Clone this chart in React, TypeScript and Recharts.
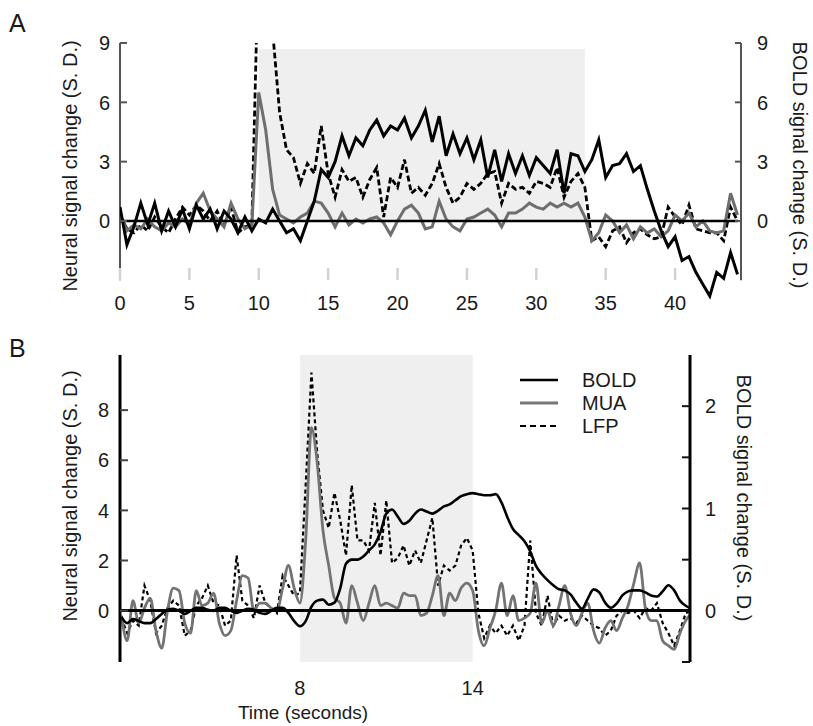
import React from 'react';
import { LineChart, Line, XAxis, YAxis, ReferenceLine, ReferenceArea, Legend } from 'recharts';

const FONT = '"Liberation Sans", Arial, Helvetica, sans-serif';

// ---------- Panel A (0.5 s steps) ----------
const timeA = [
  0, 0.5, 1, 1.5, 2, 2.5, 3, 3.5, 4, 4.5,
  5, 5.5, 6, 6.5, 7, 7.5, 8, 8.5, 9, 9.5,
  10, 10.5, 11, 11.5, 12, 12.5, 13, 13.5, 14, 14.5,
  15, 15.5, 16, 16.5, 17, 17.5, 18, 18.5, 19, 19.5,
  20, 20.5, 21, 21.5, 22, 22.5, 23, 23.5, 24, 24.5,
  25, 25.5, 26, 26.5, 27, 27.5, 28, 28.5, 29, 29.5,
  30, 30.5, 31, 31.5, 32, 32.5, 33, 33.5, 34, 34.5,
  35, 35.5, 36, 36.5, 37, 37.5, 38, 38.5, 39, 39.5,
  40, 40.5, 41, 41.5, 42, 42.5, 43, 43.5, 44, 44.5,
];
const boldA = [
  0.7, -1.2, -0.3, 0.9, -0.2, 0.9, -0.5, 0.5, -0.3, 0.6,
  -0.4, 0.8, 0.1, 0.6, -0.4, 0.5, 0.1, -0.6, 0.2, -0.5,
  0.1, -0.1, 0.6, 0.0, -0.6, -0.4, -1.0, 0.0, 1.0, 2.6,
  2.2, 3.0, 4.3, 3.3, 4.2, 3.8, 4.6, 5.1, 4.3, 4.8,
  4.6, 5.2, 4.2, 4.8, 5.6, 4.0, 5.3, 3.3, 4.4, 3.4,
  4.2, 3.1, 4.1, 2.2, 3.6, 2.0, 3.4, 2.4, 3.3, 2.3,
  3.2, 2.8, 2.4, 3.6, 1.4, 3.4, 3.3, 2.5, 3.1, 4.1,
  2.2, 2.8, 2.9, 3.4, 2.5, 2.8, 1.6, 0.5, -0.5, -1.3,
  -0.8, -2.0, -1.8, -2.6, -3.2, -3.8, -2.6, -2.9, -1.6, -2.7,
];
const muaA = [
  0.3, -0.5, -0.2, -0.4, 0.1, -0.3, -0.5, -0.1, -0.3, 0.1,
  -0.2, 0.9, 1.4, 0.5, 0.1, -0.3, 0.9, 0.1, -0.4, -0.2,
  6.5, 4.6, 1.6, 0.3, 0.1, -0.1, 0.2, 0.4, 1.0, 0.9,
  0.4, -0.3, 0.4, -0.2, 0.1, -0.1, 0.1, 0.2, -0.1, -0.7,
  0.0, 0.6, 0.8, 0.4, -0.4, -0.3, 1.0, 0.1, -0.3, -0.5,
  0.1, 0.2, 0.4, 0.6, 0.3, -0.3, 0.4, 0.4, 0.6, 0.9,
  0.7, 0.6, 0.9, 0.7, 0.9, 0.7, 0.9, 0.2, -1.0, -0.6,
  0.3, 0.0, -0.6, -0.2, -0.9, -0.3, -0.6, -0.4, -0.8, -0.5,
  0.3, 0.0, 0.4, -0.3, 0.0, -0.5, -0.6, -0.5, 1.4, 0.3,
];
const lfpA = [
  0.3, -0.4, -0.6, -0.2, -0.5, 0.2, -0.3, -0.6, 0.1, 0.7,
  0.3, 0.8, 0.5, 0.0, 0.5, -0.2, 0.7, -0.6, -0.3, -0.2,
  14, 14, 9.6, 5.5, 3.6, 3.2, 1.9, 2.9, 2.4, 4.8,
  2.4, 1.2, 2.6, 2.0, 2.2, 1.2, 2.1, 2.7, 0.2, 2.2,
  1.7, 3.1, 1.4, 1.7, 1.3, 1.9, 2.9, 1.7, 0.9, 1.2,
  1.9, 1.6, 1.9, 2.4, 2.5, 0.9, 1.9, 1.6, 1.7, 1.4,
  2.0, 1.9, 1.7, 2.7, 1.2, 2.0, 2.4, 1.7, -1.0, -0.8,
  -1.3, -0.5, -0.3, -1.1, -0.6, -0.4, -0.7, -0.9, -0.8, 0.7,
  0.2, -0.2, 0.8, -0.4, -0.5, -0.6, -0.6, -1.0, 0.7, 0.0,
];
const xTicksA = [0, 5, 10, 15, 20, 25, 30, 35, 40];
const yTicksA = [0, 3, 6, 9];

// ---------- Panel B (0.2 s steps) ----------
const timeB = [
  1.8, 2, 2.2, 2.4, 2.6, 2.8, 3, 3.2, 3.4, 3.6,
  3.8, 4, 4.2, 4.4, 4.6, 4.8, 5, 5.2, 5.4, 5.6,
  5.8, 6, 6.2, 6.4, 6.6, 6.8, 7, 7.2, 7.4, 7.6,
  7.8, 8, 8.2, 8.4, 8.6, 8.8, 9, 9.2, 9.4, 9.6,
  9.8, 10, 10.2, 10.4, 10.6, 10.8, 11, 11.2, 11.4, 11.6,
  11.8, 12, 12.2, 12.4, 12.6, 12.8, 13, 13.2, 13.4, 13.6,
  13.8, 14, 14.2, 14.4, 14.6, 14.8, 15, 15.2, 15.4, 15.6,
  15.8, 16, 16.2, 16.4, 16.6, 16.8, 17, 17.2, 17.4, 17.6,
  17.8, 18, 18.2, 18.4, 18.6, 18.8, 19, 19.2, 19.4, 19.6,
  19.8, 20, 20.2, 20.4, 20.6, 20.8, 21, 21.2, 21.4, 21.6,
];
const boldB = [
  -0.06, -0.12, -0.08, -0.1, -0.12, -0.12, -0.08, -0.03, 0.01, 0.02,
  0.0, -0.03, 0.0, 0.03, 0.03, 0.01, 0.0, 0.03, 0.03, 0.0,
  -0.02, 0.0, 0.02, 0.01, -0.02, -0.03, 0.0, 0.03, 0.03, -0.02,
  -0.1, -0.15, -0.1, 0.04, 0.1, 0.11, 0.06, 0.08, 0.22, 0.46,
  0.5, 0.5, 0.53, 0.59, 0.65, 0.77, 0.95, 0.99, 0.92, 0.85,
  0.88, 0.95, 0.99, 0.97, 0.95, 0.98, 1.02, 1.04, 1.08, 1.12,
  1.14, 1.15, 1.14, 1.13, 1.13, 1.14, 1.06, 0.92, 0.8, 0.74,
  0.68, 0.58, 0.44, 0.36, 0.3, 0.25, 0.21, 0.2, 0.16, 0.08,
  0.02, 0.12, 0.21, 0.18, 0.08, 0.03, 0.07, 0.15, 0.19, 0.2,
  0.2, 0.18, 0.15, 0.14, 0.19, 0.25, 0.2, 0.1, 0.05, 0.02,
];
const muaB = [
  -0.2, -1.2, 0.4, -0.5, 0.1, 0.5, -0.8, -1.5, 0.0, 0.9,
  0.8, -0.5, -0.9, 0.8, 0.2, 0.3, 0.7, -0.5, -1.0, -0.8,
  0.4, 1.4, 1.3, 0.0, 0.3, 0.3, 0.1, 0.0, 0.9, 1.8,
  0.9, 0.3, 2.8, 7.3, 5.9, 3.2, 1.8, 0.5, 0.3, -0.5,
  1.0, 0.3, -0.4, 0.3, 1.0, 0.2, 0.3, 0.2, 0.1, 0.7,
  0.6, 0.6, -0.2, -0.1, 0.6, 1.4, -0.2, 0.7, 0.4, 0.9,
  1.1, 0.8, -0.8, -1.4, -0.7, 0.0, 1.1, -0.2, 0.6, -0.4,
  -0.3, -0.1, 1.1, -0.5, 0.0, -0.6, 0.2, 1.0, -0.1, -0.6,
  -0.1, 0.3, -0.8, -1.3, -0.7, -0.4, -0.8, -0.3, 0.2, 1.1,
  1.9, 0.1, -0.4, -0.4, -1.2, -1.4, -1.55, -0.9, -0.4, -0.1,
];
const lfpB = [
  -0.3, -0.9, -0.4, -0.6, 1.0, 0.4, -0.9, -0.6, 0.1, 0.4,
  0.2, -1.0, -0.8, 0.2, 0.5, 1.0, 0.3, 0.2, -0.6, -0.4,
  2.2, 0.4, 0.2, -0.3, 1.0, 0.3, 0.1, -0.1, 1.4, 1.0,
  0.6, 0.7, 5.0, 9.5, 6.3, 4.0, 3.3, 4.7, 3.6, 2.2,
  5.0, 2.8, 2.8, 2.4, 4.3, 2.2, 4.4, 1.9, 2.1, 2.6,
  1.8, 2.4, 1.9, 2.8, 3.7, 1.0, 1.8, 1.6, 1.8, 2.6,
  2.9, 2.4, -0.1, -1.1, -0.6, -0.9, -0.6, -1.0, -0.6, -1.2,
  -0.6, 2.8, -0.1, -0.6, 0.6, -0.6, -0.2, -0.4, -0.3, -0.5,
  -0.2, -0.4, -0.6, -0.7, -1.0, -0.8, -0.2, 0.0, -0.1, 0.0,
  -0.3, 0.1, 0.0, 0.3, -0.5, -0.9, -1.4, -0.8, -0.1, 0.0,
];
const xTicksB = [8, 14];
const yTicksBLeft = [0, 2, 4, 6, 8];
const yTicksBRight = [-0.5, 0, 0.5, 1, 1.5, 2];
const yLabelsBRight = [0, 1, 2];

const legendItems = [
  { name: 'BOLD', color: '#000000', width: 2.6, dash: '' },
  { name: 'MUA', color: '#777777', width: 3, dash: '' },
  { name: 'LFP', color: '#000000', width: 2.2, dash: '6 4' },
];

const rowsA = timeA.map((t, i) => ({ t, bold: boldA[i], mua: muaA[i], lfp: lfpA[i] }));
const rowsB = timeB.map((t, i) => ({ t, bold: boldB[i], mua: muaB[i], lfp: lfpB[i] }));

const TICK_FS = 20;
const TITLE_FS = 20;
const TEXT = '#1a1a1a';

function leftTick(gap: number, len: number, color: string, labels?: number[]) {
  return (props: any) => {
    const { x, y, payload } = props;
    const ax = x + gap;
    const show = !labels || labels.includes(payload.value);
    return (
      <g>
        <line x1={ax} x2={ax + len} y1={y} y2={y} stroke={color} strokeWidth={2} />
        {show && (
          <text x={x} y={y} dy="0.36em" textAnchor="end" fontSize={TICK_FS} fontFamily={FONT} fill={TEXT}>
            {payload.value}
          </text>
        )}
      </g>
    );
  };
}
function rightTick(gap: number, len: number, color: string, labels?: number[]) {
  return (props: any) => {
    const { x, y, payload } = props;
    const ax = x - gap;
    const show = !labels || labels.includes(payload.value);
    return (
      <g>
        <line x1={ax} x2={ax - len} y1={y} y2={y} stroke={color} strokeWidth={2} />
        {show && (
          <text x={x} y={y} dy="0.36em" textAnchor="start" fontSize={TICK_FS} fontFamily={FONT} fill={TEXT}>
            {payload.value}
          </text>
        )}
      </g>
    );
  };
}
const xTickA = (props: any) => {
  const { x, y, payload } = props;
  return (
    <g>
      <line x1={x} x2={x} y1={y - 36} y2={y - 24} stroke="#d2d2d2" strokeWidth={2.5} />
      <text x={x} y={y - 1} dy="0.36em" textAnchor="middle" fontSize={TICK_FS} fontFamily={FONT} fill={TEXT}>
        {payload.value}
      </text>
    </g>
  );
};
const xTickB = (props: any) => {
  const { x, y, payload } = props;
  return (
    <text x={x} y={y + 26} dy="0.36em" textAnchor="middle" fontSize={TICK_FS} fontFamily={FONT} fill={TEXT}>
      {payload.value}
    </text>
  );
};

const LegendBox = () => (
  <svg width={140} height={72}>
    {legendItems.map((it, i) => (
      <g key={it.name}>
        <line x1={5} x2={43} y1={12 + i * 23} y2={12 + i * 23} stroke={it.color} strokeWidth={it.width}
          strokeDasharray={it.dash || undefined} />
        <text x={67} y={12 + i * 23} dy="0.36em" fontSize={20} fontFamily={FONT} fill={TEXT}>{it.name}</text>
      </g>
    ))}
  </svg>
);

export default function App() {
  return (
    <div style={{ position: 'absolute', left: 0, top: 0, width: 813, height: 726, background: '#fff' }}>
      <div style={{ position: 'absolute', left: 0, top: 0 }}>
        <LineChart width={813} height={330} data={rowsA} margin={{ top: 43, right: 32, bottom: 6, left: 80 }}>
          <XAxis dataKey="t" type="number" domain={[0, 44.75]} ticks={xTicksA} axisLine={false} tickLine={false}
            tickSize={0} tickMargin={0} height={20} tick={xTickA} interval={0} allowDataOverflow />
          <YAxis yAxisId="l" type="number" domain={[-4.2, 9]} ticks={yTicksA} allowDataOverflow axisLine={false}
            tickLine={false} tickSize={0} tickMargin={10} width={40} tick={leftTick(10, 7, '#555')} interval={0} />
          <YAxis yAxisId="r" orientation="right" type="number" domain={[-4.2, 9]} ticks={yTicksA} allowDataOverflow
            axisLine={false} tickLine={false} tickSize={0} tickMargin={16} width={40} tick={rightTick(16, 6, '#555')} interval={0} />
          <ReferenceArea yAxisId="l" x1={10} x2={33.5} y1={0} y2={8.7} fill="#efefef" fillOpacity={1} stroke="none" />
          <ReferenceLine yAxisId="l" segment={[{ x: 0, y: -3 }, { x: 0, y: 9 }]} stroke="#555" strokeWidth={2} />
          <ReferenceLine yAxisId="l" segment={[{ x: 44.75, y: -3 }, { x: 44.75, y: 9 }]} stroke="#555" strokeWidth={2} />
          <Line yAxisId="l" dataKey="lfp" type="linear" stroke="#000" strokeWidth={2.8} strokeDasharray="6 3"
            dot={false} isAnimationActive={false} />
          <Line yAxisId="l" dataKey="mua" type="linear" stroke="#6e6e6e" strokeWidth={3} dot={false} isAnimationActive={false} />
          <Line yAxisId="r" dataKey="bold" type="linear" stroke="#000" strokeWidth={3} dot={false} isAnimationActive={false} />
          <ReferenceLine yAxisId="l" segment={[{ x: 0, y: 0 }, { x: 44.55, y: 0 }]} stroke="#000" strokeWidth={2.6} />
        </LineChart>
      </div>
      <div style={{ position: 'absolute', left: 0, top: 330 }}>
        <LineChart width={813} height={396} data={rowsB} margin={{ top: 25, right: 83, bottom: 24, left: 80 }}>
          <XAxis dataKey="t" type="number" domain={[1.75, 21.55]} ticks={xTicksB} axisLine={false} tickLine={false}
            tickSize={0} tickMargin={0} height={40} tick={xTickB} interval={0} allowDataOverflow />
          <YAxis yAxisId="l" type="number" domain={[-2.05, 10.2]} ticks={yTicksBLeft} allowDataOverflow
            axisLine={{ stroke: '#000', strokeWidth: 3 }} tickLine={false} tickSize={0} tickMargin={11} width={40}
            tick={leftTick(11, 8, '#444')} interval={0} />
          <YAxis yAxisId="r" orientation="right" type="number" domain={[-0.5, 2.5]} ticks={yTicksBRight} allowDataOverflow
            axisLine={{ stroke: '#000', strokeWidth: 3 }} tickLine={false} tickSize={0} tickMargin={15} width={40}
            tick={rightTick(15, 8, '#111', yLabelsBRight)} interval={0} />
          <ReferenceArea yAxisId="l" x1={8} x2={14} fill="#efefef" fillOpacity={1} stroke="none" />
          <Line yAxisId="l" dataKey="lfp" type="linear" stroke="#000" strokeWidth={2.2} strokeDasharray="4 3"
            dot={false} isAnimationActive={false} />
          <Line yAxisId="l" dataKey="mua" type="monotone" stroke="#737373" strokeWidth={2.8} dot={false} isAnimationActive={false} />
          <Line yAxisId="r" dataKey="bold" type="monotone" stroke="#000" strokeWidth={2.6} dot={false} isAnimationActive={false} />
          <ReferenceLine yAxisId="l" y={0} stroke="#000" strokeWidth={3} />
          <Legend layout="vertical" align="center" verticalAlign="middle" content={() => <LegendBox />}
            wrapperStyle={{ left: 515, top: 38, width: 140, height: 72 }} />
        </LineChart>
      </div>
      <svg width={813} height={726} style={{ position: 'absolute', left: 0, top: 0, pointerEvents: 'none' }}>
        <g fontFamily={FONT} fill={TEXT}>
          <text x={9} y={32} fontSize={25}>A</text>
          <text x={9} y={357} fontSize={25}>B</text>
          <text transform="translate(70,166) rotate(-90)" textAnchor="middle" dy="0.36em" fontSize={TITLE_FS}>
            Neural signal change (S. D.)
          </text>
          <text transform="translate(800,165) rotate(90)" textAnchor="middle" dy="0.36em" fontSize={TITLE_FS}>
            BOLD signal change (S. D.)
          </text>
          <text transform="translate(70,496) rotate(-90)" textAnchor="middle" dy="0.36em" fontSize={TITLE_FS}>
            Neural signal change (S. D.)
          </text>
          <text transform="translate(744,498) rotate(90)" textAnchor="middle" dy="0.36em" fontSize={TITLE_FS}>
            BOLD signal change (S. D.)
          </text>
          <text x={303} y={712} textAnchor="middle" dy="0.36em" fontSize={19}>Time (seconds)</text>
        </g>
      </svg>
    </div>
  );
}
